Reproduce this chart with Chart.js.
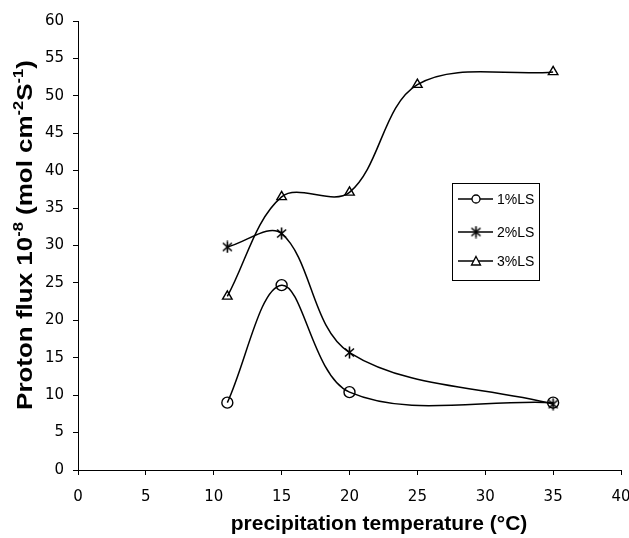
<!DOCTYPE html>
<html><head><meta charset="utf-8">
<script src="https://cdn.jsdelivr.net/npm/chart.js@4/dist/chart.umd.min.js"></script>
<style>html,body{margin:0;padding:0;background:#fff}#wrap{width:629px;height:538px}</style>
</head><body><div id="wrap"><canvas id="c" width="629" height="538"></canvas></div>
<script>
const seriesNames = ["1%LS", "2%LS", "3%LS"];
const temps1 = [11, 15, 20, 35];
const flux1 = [9.0, 24.7, 10.4, 9.0];
const temps2 = [11, 15, 20, 35];
const flux2 = [29.8, 31.6, 15.7, 8.8];
const temps3 = [11, 15, 20, 25, 35];
const flux3 = [23.2, 36.5, 37.1, 51.5, 53.2];
const xTicks = [0, 5, 10, 15, 20, 25, 30, 35, 40];
const yTicks = [0, 5, 10, 15, 20, 25, 30, 35, 40, 45, 50, 55, 60];
const xTitle = 'precipitation temperature (°C)';
// y title pieces: [text, isSuperscript]
const yTitleParts = [['Proton flux 10', false], ['-8', true], [' (mol cm', false], ['-2', true], ['S', false], ['-1', true], [')', false]];

function pts(xs, ys){ return xs.map((x,i)=>({x:x, y:ys[i]})); }

// asterisk marker (x + vertical line)
const star = document.createElement('canvas');
star.width = 13; star.height = 13;
(function(){
  const g = star.getContext('2d');
  g.strokeStyle = '#000'; g.lineWidth = 1.6;
  g.beginPath();
  g.moveTo(2,2.5); g.lineTo(11,10.5);
  g.moveTo(11,2.5); g.lineTo(2,10.5);
  g.moveTo(6.5,0.5); g.lineTo(6.5,12.5);
  g.stroke();
})();

const font = "'Liberation Sans', Arial, sans-serif";
const tickFont = "'DejaVu Sans', 'Liberation Sans', sans-serif";
const styles = ['circle', star, 'triangle'];
const radii = [5.5, 6, 5.5];

const legendPlugin = {
  id: 'boxLegend',
  afterDraw(chart){
    const ctx = chart.ctx;
    const bx = 452, by = 183, bw = 87, bh = 97;
    ctx.save();
    ctx.strokeStyle = '#000'; ctx.lineWidth = 1;
    ctx.strokeRect(bx+0.5, by+0.5, bw, bh);
    ctx.font = "14px " + font;
    ctx.fillStyle = '#000';
    ctx.textBaseline = 'middle';
    const rows = [by+16, by+49, by+78];
    rows.forEach((ry, i) => {
      ctx.beginPath();
      ctx.lineWidth = 1.3;
      ctx.moveTo(bx+6, ry); ctx.lineTo(bx+41, ry); ctx.stroke();
      if (i === 0) {
        ctx.beginPath(); ctx.arc(bx+24, ry, 4, 0, Math.PI*2);
        ctx.fillStyle='#fff'; ctx.fill(); ctx.stroke();
      } else if (i === 1) {
        ctx.drawImage(star, bx+24-6.5, ry-6.5);
      } else {
        ctx.beginPath();
        ctx.moveTo(bx+24, ry-4.5); ctx.lineTo(bx+28.5, ry+4); ctx.lineTo(bx+19.5, ry+4); ctx.closePath();
        ctx.fillStyle='#fff'; ctx.fill(); ctx.stroke();
      }
      ctx.fillStyle = '#000';
      ctx.fillText(seriesNames[i], bx+45, ry+1);
    });
    // x axis title
    ctx.font = "bold 21px " + font;
    ctx.textAlign = 'center';
    ctx.textBaseline = 'middle';
    ctx.fillText(xTitle, 379, 524);
    // y axis title with superscripts (horizontally stretched like the original)
    const big = "bold 22px " + font, small = "bold 14px " + font;
    const stretch = 1.18;
    let total = 0;
    yTitleParts.forEach(([t, sup]) => { ctx.font = sup ? small : big; total += ctx.measureText(t).width; });
    ctx.translate(24, 235);
    ctx.rotate(-Math.PI/2);
    ctx.scale(stretch, 1);
    ctx.textBaseline = 'alphabetic';
    ctx.textAlign = 'left';
    let x = -total/2;
    yTitleParts.forEach(([t, sup]) => {
      ctx.font = sup ? small : big;
      ctx.fillText(t, x, sup ? -1 : 7.5);
      x += ctx.measureText(t).width;
    });
    ctx.restore();
  }
};

const datasets = [pts(temps1, flux1), pts(temps2, flux2), pts(temps3, flux3)].map((d, i) => ({
  label: seriesNames[i],
  data: d,
  showLine: true,
  borderColor: '#000',
  borderWidth: 1.5,
  backgroundColor: '#fff',
  pointStyle: styles[i],
  pointRadius: radii[i],
  pointBorderColor: '#000',
  pointBackgroundColor: 'rgba(255,255,255,0)',
  pointBorderWidth: 1.4,
  tension: 0.35,
  cubicInterpolationMode: 'default',
  fill: false
}));

new Chart(document.getElementById('c'), {
  type: 'scatter',
  data: { datasets },
  options: {
    responsive: false,
    animation: false,
    devicePixelRatio: 1,
    layout: { padding: { left: 0, right: 0, top: 21, bottom: 0 } },
    plugins: { legend: { display: false }, tooltip: { enabled: false } },
    elements: { line: { capBezierPoints: false } },
    scales: {
      x: {
        type: 'linear', min: 0, max: 40,
        afterBuildTicks: s => { s.ticks = xTicks.map(v => ({value: v})); },
        afterFit: s => { s.height = 68; s.paddingRight = 8; s.paddingLeft = 0; },
        grid: { drawOnChartArea: false, color: '#000', tickLength: 5, tickColor: '#000' },
        border: { color: '#000', width: 1 },
        ticks: { color: '#000', font: { family: tickFont, size: 15 }, padding: 13, maxRotation: 0 },
        title: { display: false }
      },
      y: {
        type: 'linear', min: 0, max: 60,
        afterBuildTicks: s => { s.ticks = yTicks.map(v => ({value: v})); },
        afterFit: s => { s.width = 78; },
        grid: { drawOnChartArea: false, color: '#000', tickLength: 5, tickColor: '#000' },
        border: { color: '#000', width: 1 },
        ticks: { color: '#000', font: { family: tickFont, size: 15 }, padding: 9 },
        title: { display: false }
      }
    }
  },
  plugins: [legendPlugin]
});
</script>
</body></html>
